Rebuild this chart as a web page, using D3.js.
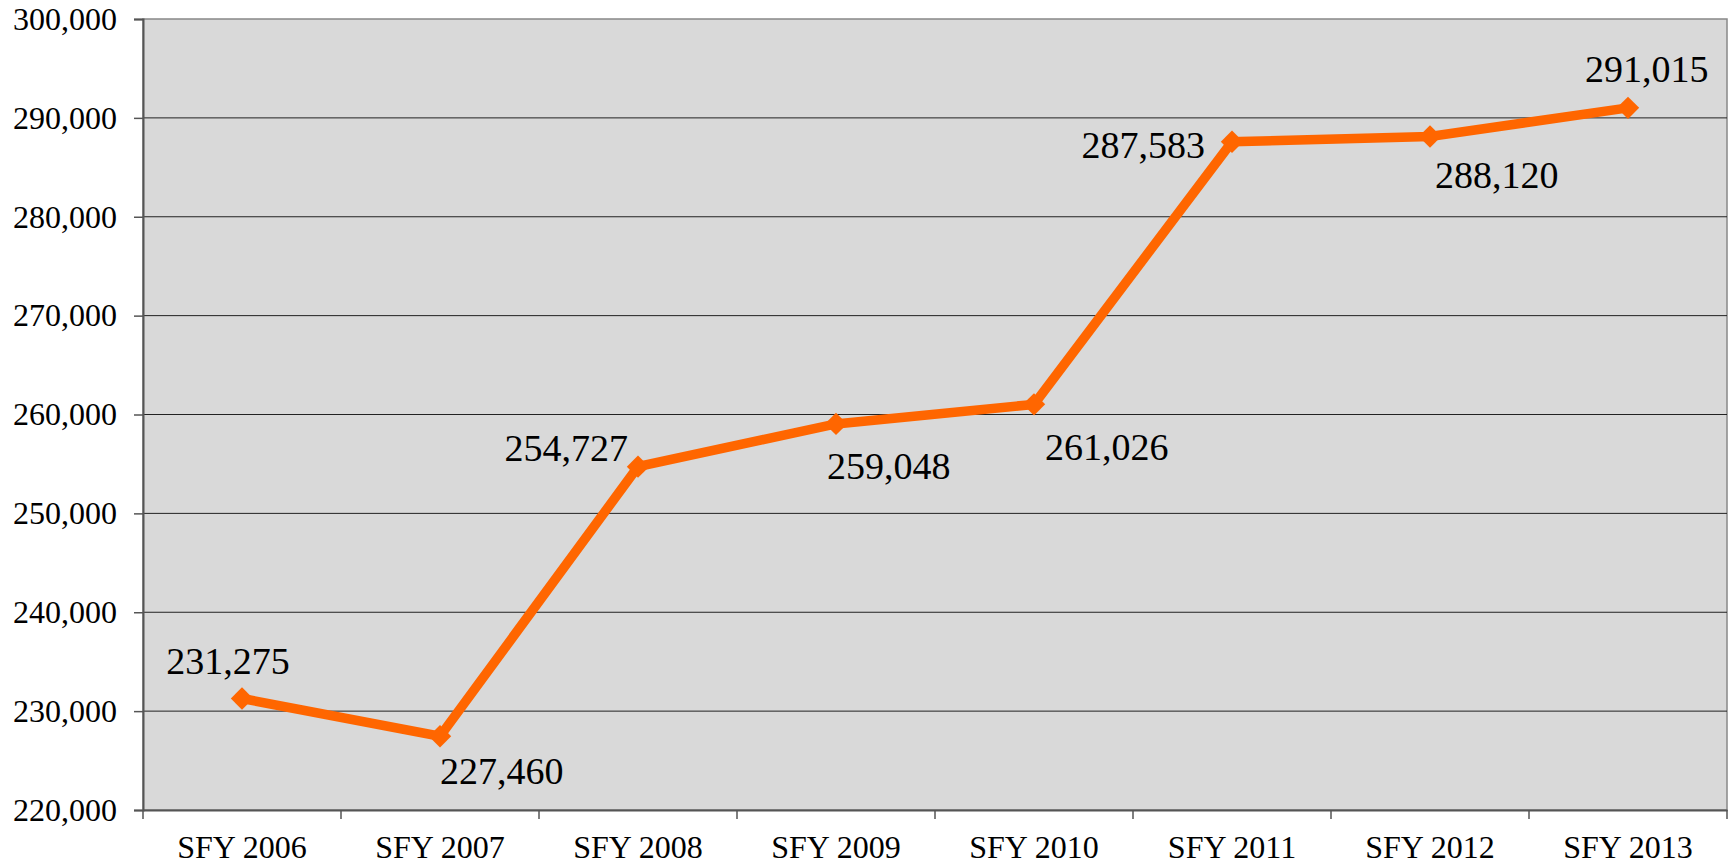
<!DOCTYPE html>
<html><head><meta charset="utf-8">
<script src="https://cdn.jsdelivr.net/npm/d3@7"></script>
<style>body{margin:0;background:#fff}svg{display:block}
text{font-family:"Liberation Serif","Times New Roman","DejaVu Serif",serif;}</style>
</head><body>
<script>
const categories = ["SFY 2006","SFY 2007","SFY 2008","SFY 2009","SFY 2010","SFY 2011","SFY 2012","SFY 2013"];
const values = [231275,227460,254727,259048,261026,287583,288120,291015];
const yTicks = [220000,230000,240000,250000,260000,270000,280000,290000,300000];
// label placement relative to point: [dx, dy(baseline), anchor]
const labelPlace = [[-14,-25,"middle"],[0,48,"start"],[-10,-6,"end"],[-9,55,"start"],[11,56,"start"],[-27,16,"end"],[5,52,"start"],[-43,-26,"start"]];

const W=1731,H=865;
const m={l:143,r:4,t:19,b:55};
const svg=d3.select("body").append("svg").attr("width",W).attr("height",H);
const x=d3.scaleBand().domain(categories).range([m.l,W-m.r]);
const y=d3.scaleLinear().domain([220000,300000]).range([H-m.b,m.t]);
const fmt=d3.format(",");
const fontCss='font-family:"Liberation Serif","Times New Roman","DejaVu Serif",serif';

svg.append("rect").attr("x",m.l).attr("y",m.t).attr("width",W-m.r-m.l).attr("height",H-m.b-m.t).attr("fill","#d9d9d9").attr("stroke","#888").attr("stroke-width",1.5);

// gridlines
svg.append("g").selectAll("line").data(yTicks.filter(d=>d>220000&&d<300000)).join("line")
 .attr("x1",m.l).attr("x2",W-m.r).attr("y1",d=>y(d)).attr("y2",d=>y(d)).attr("stroke","#222").attr("stroke-width",1);

// y axis
const ya=svg.append("g").attr("transform",`translate(${m.l},0)`).call(d3.axisLeft(y).tickValues(yTicks).tickFormat(fmt).tickSize(9).tickPadding(17));
ya.attr("font-family",null);
ya.select(".domain").attr("stroke","#555").attr("stroke-width",2);
ya.selectAll(".tick line").attr("stroke","#555").attr("stroke-width",1.5);
ya.selectAll("text").attr("style",fontCss).attr("font-size",32).attr("fill","#000");

// x axis
const xa=svg.append("g").attr("transform",`translate(0,${H-m.b})`).call(d3.axisBottom(x).tickSize(0).tickPadding(25));
xa.attr("font-family",null);
xa.select(".domain").attr("stroke","#555").attr("stroke-width",2);
xa.selectAll("text").attr("style",fontCss).attr("font-size",32).attr("fill","#000");
const bounds=categories.map(c=>x(c)).concat([x(categories[categories.length-1])+x.bandwidth()]);
xa.selectAll(".cat-tick").data(bounds).join("line").attr("class","cat-tick")
 .attr("x1",d=>d).attr("x2",d=>d).attr("y1",0).attr("y2",9).attr("stroke","#555").attr("stroke-width",1.5);

// line
const cx=c=>x(c)+x.bandwidth()/2;
const pts=categories.map((c,i)=>[cx(c),y(values[i])]);
svg.append("path").attr("d",d3.line()(pts)).attr("fill","none").attr("stroke","#ff6600").attr("stroke-width",9.5).attr("stroke-linejoin","miter");
svg.append("g").selectAll("path").data(pts).join("path")
 .attr("transform",d=>`translate(${d[0]},${d[1]})`)
 .attr("d",d3.symbol(d3.symbolDiamond2,320)()).attr("fill","#ff6600");

// data labels
svg.append("g").selectAll("text").data(values).join("text")
 .attr("x",(d,i)=>pts[i][0]+labelPlace[i][0]).attr("y",(d,i)=>pts[i][1]+labelPlace[i][1])
 .attr("text-anchor",(d,i)=>labelPlace[i][2])
 .attr("style",fontCss).attr("font-size",38).attr("fill","#000").text(d=>fmt(d));
</script>
</body></html>
